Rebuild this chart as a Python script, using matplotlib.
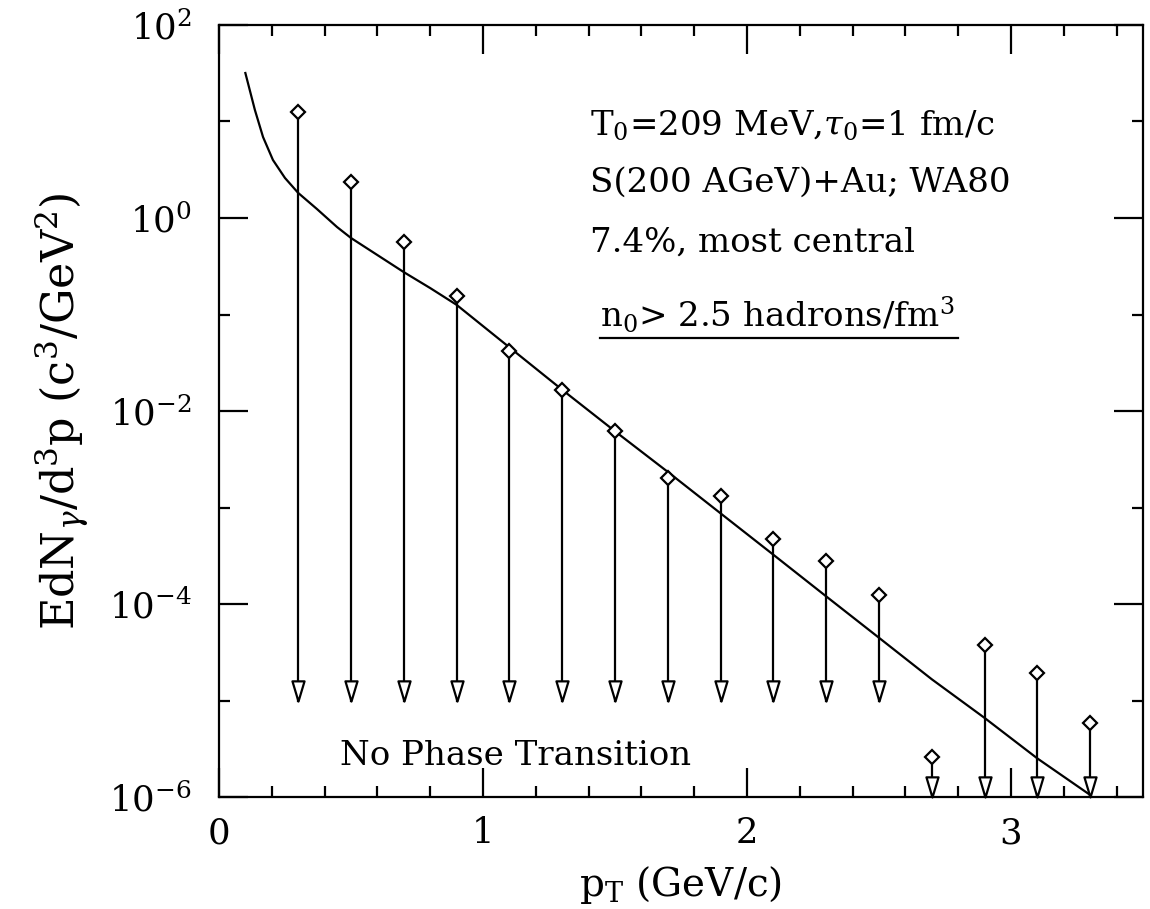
import numpy as np
import matplotlib
matplotlib.use('Agg')
import matplotlib.pyplot as plt
from matplotlib.path import Path
from matplotlib.ticker import FixedLocator, MultipleLocator

plt.rcParams['font.family'] = 'DejaVu Serif'
plt.rcParams['mathtext.fontset'] = 'dejavuserif'

# data points (upper limits), pT in GeV/c
pt = [0.3, 0.5, 0.7, 0.9, 1.1, 1.3, 1.5, 1.7, 1.9, 2.1, 2.3, 2.5, 2.7, 2.9, 3.1, 3.3]
yield_pts = [12.5, 2.36, 0.564, 0.156, 0.0419, 0.0165, 0.0062, 0.00202, 0.00131,
             4.72e-4, 2.79e-4, 1.24e-4, 2.6e-6, 3.76e-5, 1.93e-5, 5.85e-6]
arrow_end = [1e-5] * 12 + [1e-6] * 4

# calculated curve
curve_pt = [0.1, 0.136, 0.167, 0.2045, 0.25, 0.3, 0.371, 0.447, 0.5, 0.7, 0.8, 0.9,
            1.1, 1.3, 1.5, 1.7, 1.9, 2.1, 2.3, 2.5, 2.7, 2.9, 3.1, 3.3]
curve_y = [31.8, 13.2, 6.9, 3.99, 2.60, 1.82, 1.24, 0.807, 0.621, 0.275, 0.188, 0.126,
           0.0457, 0.0166, 6.17e-3, 2.34e-3, 8.7e-4, 3.24e-4, 1.20e-4, 4.47e-5,
           1.66e-5, 6.6e-6, 2.51e-6, 1.05e-6]

fig = plt.figure(figsize=(11.5, 9.09), dpi=100)
ax = fig.add_axes([0.1904, 0.1232, 0.8035, 0.8493])

ax.plot(curve_pt, curve_y, color='black', lw=1.6)

# arrow head marker with tip at origin
head = Path([(-0.3, 1.0), (0.3, 1.0), (0.0, 0.0), (-0.3, 1.0)],
            [Path.MOVETO, Path.LINETO, Path.LINETO, Path.CLOSEPOLY])
for x, y, ye in zip(pt, yield_pts, arrow_end):
    ax.plot([x, x], [y, ye], color='black', lw=1.6, zorder=2)
ax.plot(pt, arrow_end, ls='none', marker=head, ms=29, mfc='white', mec='black',
        mew=1.6, zorder=3, clip_on=False)
ax.plot(pt, yield_pts, ls='none', marker='D', ms=7.5, mfc='white', mec='black',
        mew=1.6, zorder=4)

ax.set_yscale('log')
ax.set_xlim(0, 3.5)
ax.set_ylim(1e-6, 1e2)

ax.xaxis.set_major_locator(FixedLocator([0, 1, 2, 3]))
ax.xaxis.set_minor_locator(MultipleLocator(0.2))
ax.set_xticklabels(['0', '1', '2', '3'])
ax.yaxis.set_major_locator(FixedLocator([1e-6, 1e-4, 1e-2, 1e0, 1e2]))
ax.yaxis.set_minor_locator(FixedLocator([1e-5, 1e-3, 1e-1, 1e1]))
ax.set_yticklabels([r'$10^{-6}$', r'$10^{-4}$', r'$10^{-2}$', r'$10^{0}$', r'$10^{2}$'])
ax.yaxis.set_minor_formatter(plt.NullFormatter())

ax.tick_params(which='both', direction='in', top=True, right=True, width=1.6,
               labelsize=25.5)
ax.tick_params(which='major', length=21)
ax.tick_params(which='minor', length=8)
ax.tick_params(axis='x', pad=14)
ax.tick_params(axis='y', pad=20)
for s in ax.spines.values():
    s.set_linewidth(1.6)

ax.set_xlabel(r'p$_\mathrm{T}$ (GeV/c)', fontsize=28, labelpad=10)
ax.set_ylabel(r'EdN$_\gamma$/d$^3$p (c$^3$/GeV$^2$)', fontsize=32, labelpad=12)

kw = dict(transform=ax.transAxes, fontsize=24.5, va='baseline')
ax.text(0.4015, 0.857, r'T$_0$=209 MeV,$\tau_0$=1 fm/c', **kw)
ax.text(0.4015, 0.784, 'S(200 AGeV)+Au; WA80', **kw)
ax.text(0.4015, 0.706, '7.4%, most central', **kw)
ax.text(0.412, 0.609, r'n$_0$> 2.5 hadrons/fm$^3$', **kw)
ax.plot([0.412, 0.8], [0.594, 0.594], transform=ax.transAxes, color='black', lw=1.6)
ax.text(0.131, 0.0415, 'No Phase Transition', **kw)

fig.savefig('out.png', dpi=100)
